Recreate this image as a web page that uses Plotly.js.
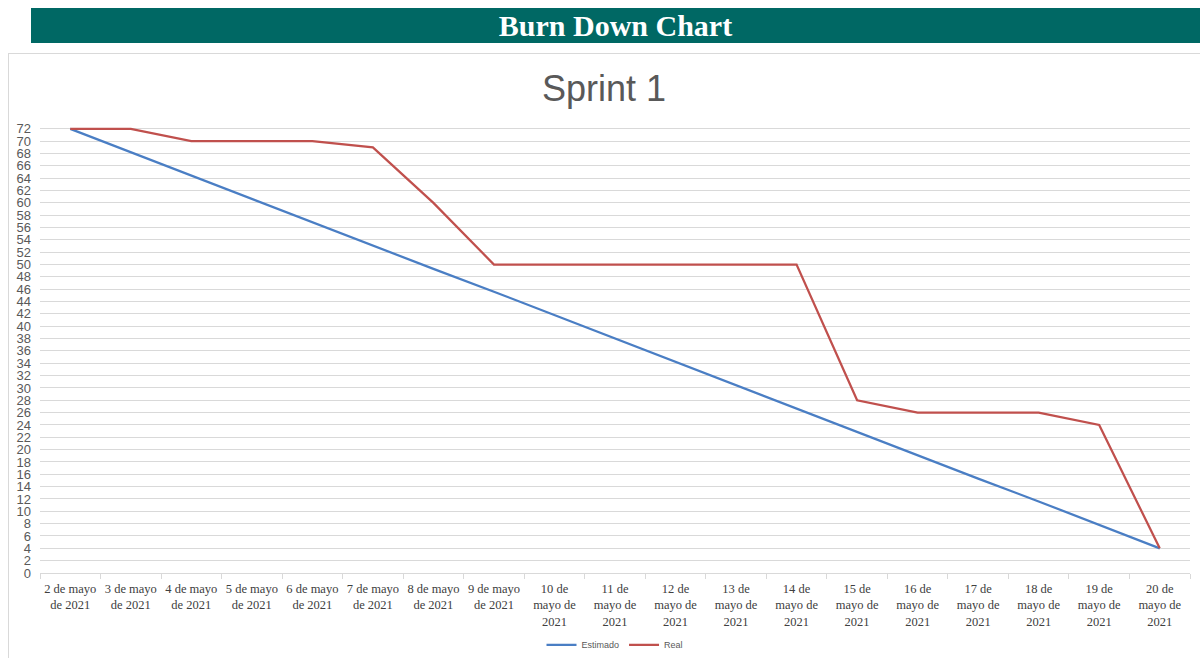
<!DOCTYPE html>
<html>
<head>
<meta charset="utf-8">
<script src="https://cdn.plot.ly/plotly-3.0.1.min.js"></script>
<style>
  html, body { margin: 0; padding: 0; background: #ffffff; width: 1200px; height: 658px; overflow: hidden; }
  #banner { position: absolute; left: 31px; top: 8px; width: 1169px; height: 35px; background: #006864;
            color: #ffffff; font-family: "Liberation Serif", "DejaVu Serif", serif; font-weight: bold;
            font-size: 30px; line-height: 35px; text-align: center; }
  #frame { position: absolute; left: 8px; top: 53px; width: 1200px; height: 620px; border: 1px solid #d9d9d9; box-sizing: border-box; }
  #chart { position: absolute; left: 8px; top: 53px; width: 1192px; height: 605px; }
</style>
</head>
<body>
<div id="banner">Burn Down Chart</div>
<div id="frame"></div>
<div id="chart"></div>
<script>
const categories = [
  "2 de mayo<br>de 2021", "3 de mayo<br>de 2021", "4 de mayo<br>de 2021", "5 de mayo<br>de 2021",
  "6 de mayo<br>de 2021", "7 de mayo<br>de 2021", "8 de mayo<br>de 2021", "9 de mayo<br>de 2021",
  "10 de<br>mayo de<br>2021", "11 de<br>mayo de<br>2021", "12 de<br>mayo de<br>2021", "13 de<br>mayo de<br>2021",
  "14 de<br>mayo de<br>2021", "15 de<br>mayo de<br>2021", "16 de<br>mayo de<br>2021", "17 de<br>mayo de<br>2021",
  "18 de<br>mayo de<br>2021", "19 de<br>mayo de<br>2021", "20 de<br>mayo de<br>2021"
];
const estimado = [72, 68.2, 64.4, 60.7, 56.9, 53.1, 49.3, 45.6, 41.8, 38, 34.2, 30.4, 26.7, 22.9, 19.1, 15.3, 11.6, 7.8, 4];
const real = [72, 72, 70, 70, 70, 69, 60, 50, 50, 50, 50, 50, 50, 28, 26, 26, 26, 24, 4];
const yTicks = [0,2,4,6,8,10,12,14,16,18,20,22,24,26,28,30,32,34,36,38,40,42,44,46,48,50,52,54,56,58,60,62,64,66,68,70,72];

const traces = [
  { x: categories, y: estimado, type: "scatter", mode: "lines", name: "Estimado",
    line: { color: "#4A7EC4", width: 2.25 } },
  { x: categories, y: real, type: "scatter", mode: "lines", name: "Real",
    line: { color: "#C0504D", width: 2.25 } }
];

const layout = {
  width: 1192, height: 605,
  paper_bgcolor: "rgba(0,0,0,0)", plot_bgcolor: "#ffffff",
  margin: { l: 32, r: 10, t: 74, b: 85, autoexpand: false },
  title: { text: "Sprint 1", x: 0.5, xanchor: "center", y: 0.942, yanchor: "middle",
           font: { family: "Liberation Sans, Arial, sans-serif", size: 36, color: "#595959" } },
  xaxis: {
    type: "category", range: [-0.5, 18.5], showgrid: false, zeroline: false,
    showline: true, linecolor: "#d9d9d9", linewidth: 1,
    ticks: "outside", tickson: "boundaries", ticklen: 5, tickcolor: "#d9d9d9",
    ticklabelstandoff: 4,
    tickfont: { family: "Liberation Serif, Times New Roman, serif", size: 12.5, color: "#404040" },
    tickangle: 0, automargin: false
  },
  yaxis: {
    range: [0, 72.3], tickmode: "array", tickvals: yTicks, ticktext: yTicks.map(String),
    showgrid: true, gridcolor: "#d9d9d9", gridwidth: 1, zeroline: false, showline: false,
    ticks: "", ticklabelstandoff: 8,
    tickfont: { family: "Liberation Sans, Arial, sans-serif", size: 13, color: "#595959" },
    automargin: false
  },
  showlegend: true,
  legend: { orientation: "h", x: 0.5, xanchor: "center", y: -0.161, yanchor: "middle",
            font: { family: "Liberation Sans, Arial, sans-serif", size: 9, color: "#595959" },
            bgcolor: "rgba(0,0,0,0)" }
};

Plotly.newPlot("chart", traces, layout, { displayModeBar: false, staticPlot: true });
</script>
</body>
</html>
